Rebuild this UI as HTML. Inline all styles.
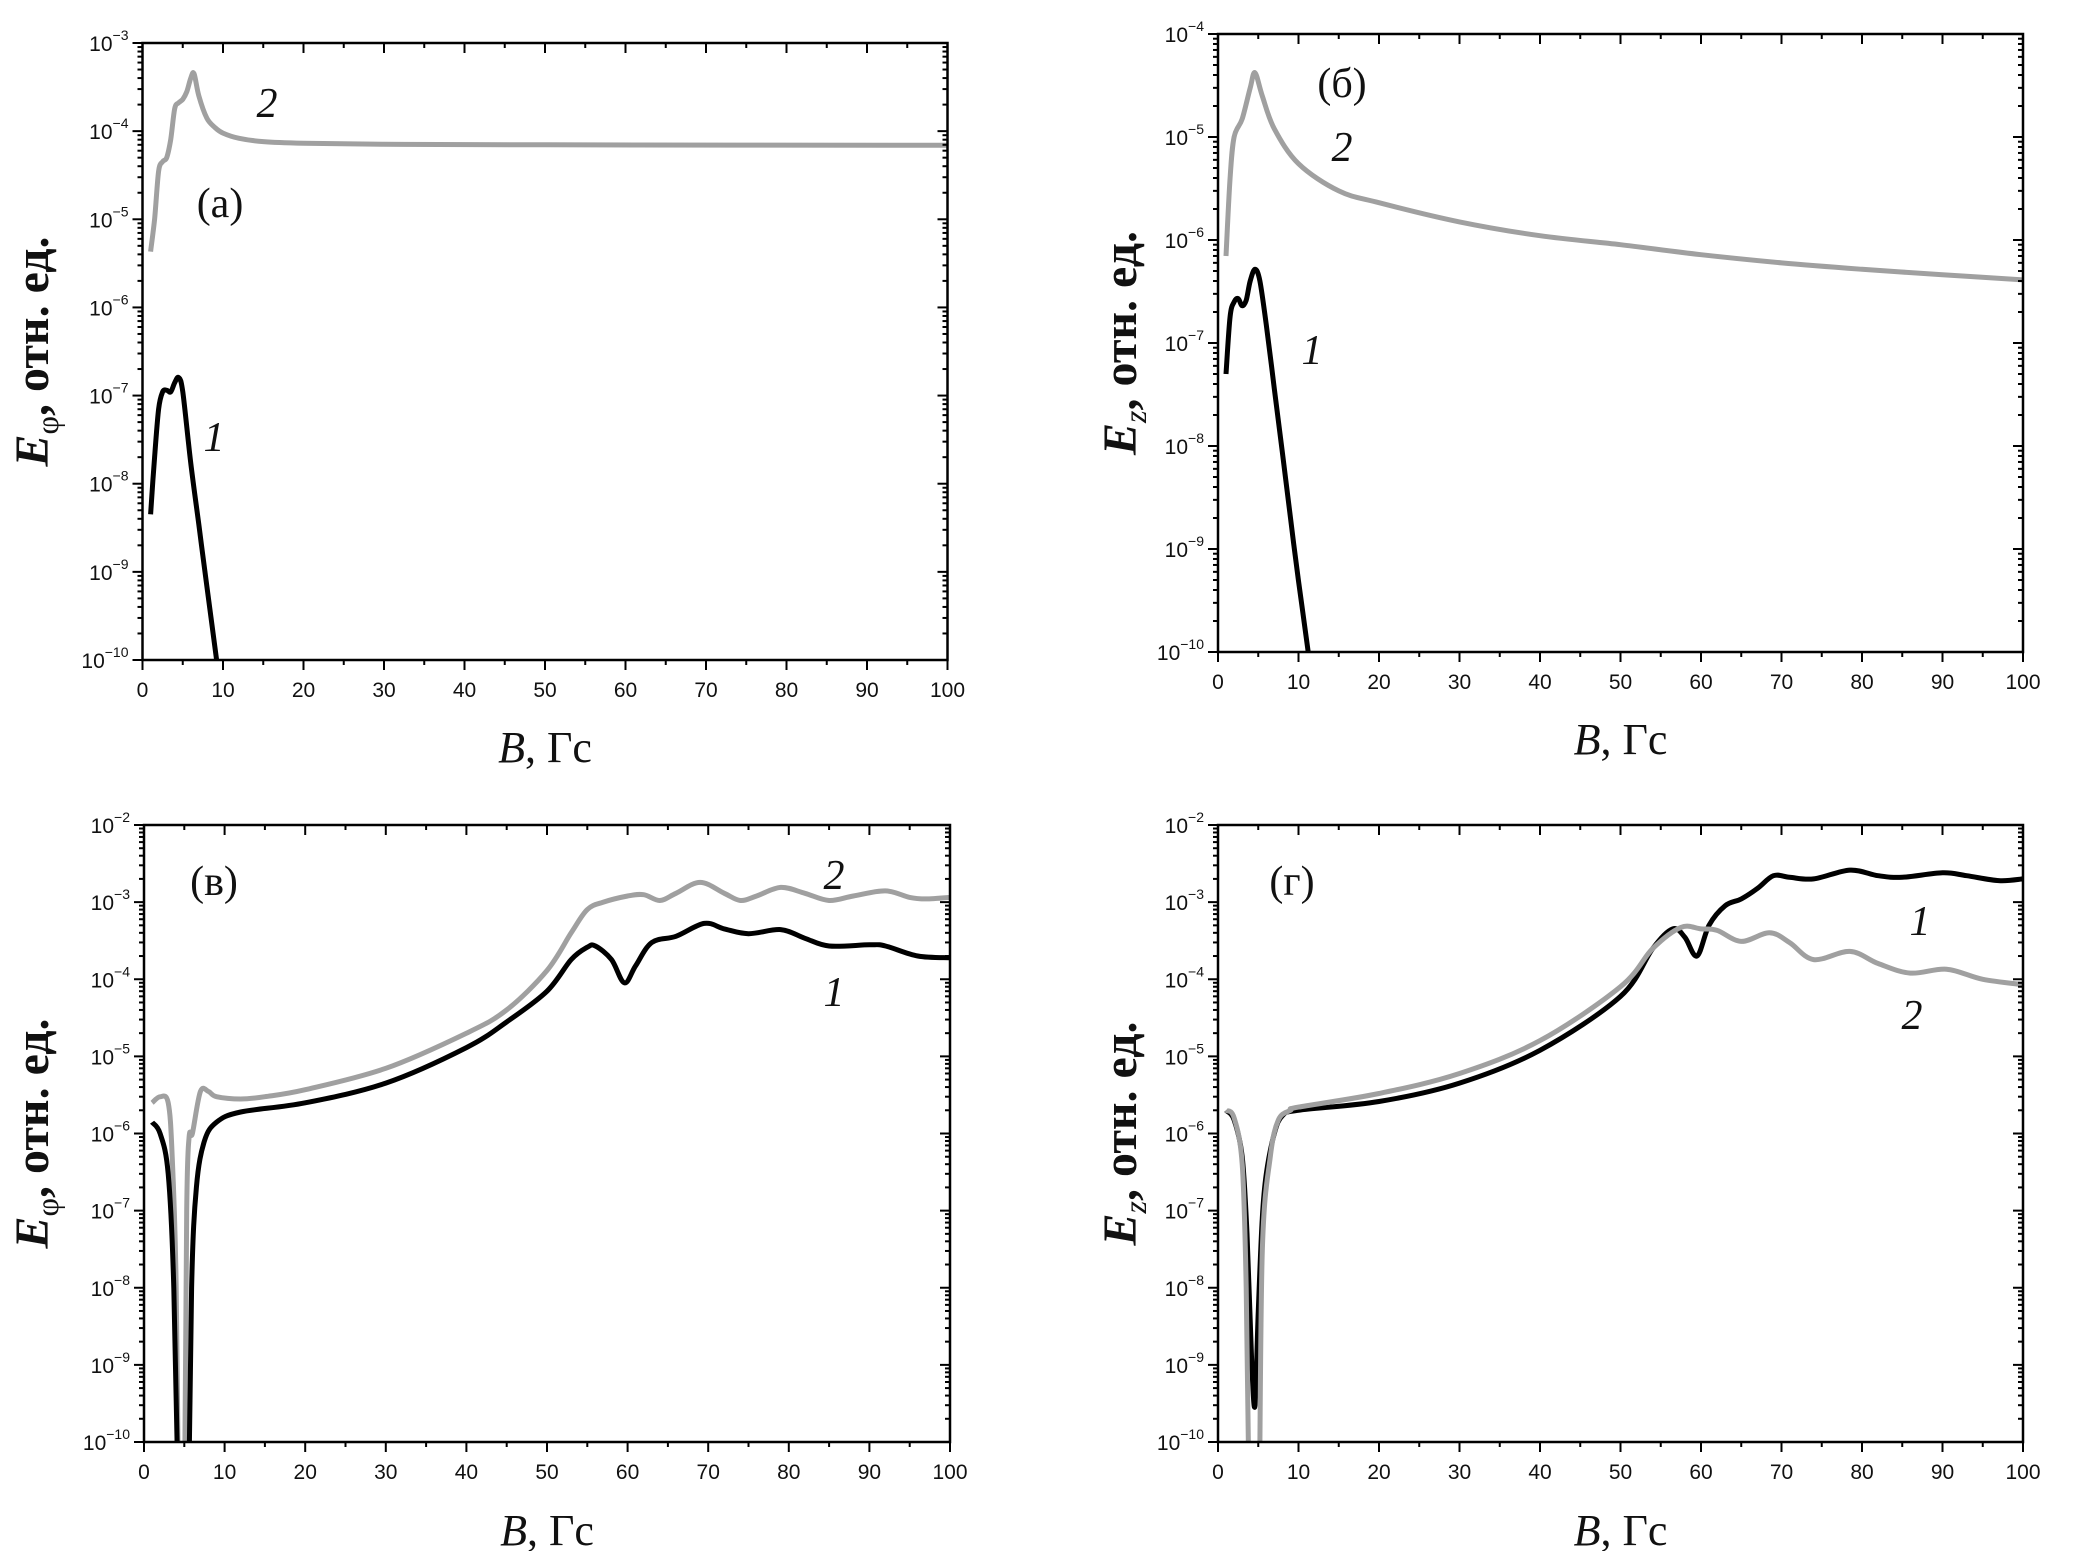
<!DOCTYPE html>
<html><head><meta charset="utf-8">
<style>
html,body{margin:0;padding:0;background:#fff;}
svg{display:block;}
.tl{font-family:"Liberation Sans",Arial,sans-serif;font-size:21px;fill:#111;}
.sup{font-size:14px;}
.ser{font-family:"Liberation Serif","Times New Roman",serif;fill:#111;}
</style></head>
<body>
<svg id="fig" width="2074" height="1551" viewBox="0 0 2074 1551" xmlns="http://www.w3.org/2000/svg"></svg>
<script>
// ---- data (x = B in Gs, y = field, relative units) ----
const aX2=[1,1.5,2,2.5,3,3.5,4,4.5,5,5.5,6,6.4,7,8,9,10,12,15,20,30,50,100];
const aY2=[4.3e-6,1e-5,3.5e-5,4.5e-5,5e-5,8e-5,1.8e-4,2.1e-4,2.3e-4,2.8e-4,4e-4,4.5e-4,2.5e-4,1.4e-4,1.1e-4,9.5e-5,8.3e-5,7.6e-5,7.3e-5,7.1e-5,7e-5,6.9e-5];
const aX1=[1,1.5,2,2.5,3,3.5,4,4.5,5,6,7,8,9.2,9.6];
const aY1=[4.5e-9,2e-8,7e-8,1.1e-7,1.15e-7,1.1e-7,1.4e-7,1.6e-7,1.1e-7,1.7e-8,3.4e-9,6.8e-10,1e-10,5e-11];

const bX2=[1,1.5,2,3,4,4.6,5.5,7,10,15,20,30,40,50,60,70,80,90,100];
const bY2=[7e-7,4e-6,1e-5,1.5e-5,3e-5,4.2e-5,2.5e-5,1.2e-5,5.5e-6,3e-6,2.3e-6,1.5e-6,1.1e-6,9e-7,7.2e-7,6e-7,5.2e-7,4.6e-7,4.1e-7];
const bX1=[1,1.5,2,2.5,3,3.5,4,4.6,5.2,6,7,8,9,10,11.2,11.6];
const bY1=[5e-8,1.8e-7,2.5e-7,2.7e-7,2.3e-7,2.6e-7,4e-7,5.2e-7,4e-7,1.5e-7,3.6e-8,8.6e-9,2e-9,4.9e-10,1e-10,5e-11];

const cX2=[1,2,3,3.5,4,4.3,4.6,5.0,5.3,5.6,6,7,8,9,12,15,20,30,40,45,50,53,55,57,60,62,64,66,69,72,74,76,79,82,85,88,92,95,97,100];
const cY2=[2.5e-6,3e-6,2.5e-6,5e-7,1e-8,1e-11,1e-12,1e-11,1e-7,9e-7,1e-6,3.5e-6,3.5e-6,3e-6,2.8e-6,3e-6,3.7e-6,7e-6,2e-5,4e-5,1.3e-4,4e-4,8e-4,1e-3,1.2e-3,1.25e-3,1.05e-3,1.3e-3,1.8e-3,1.3e-3,1.05e-3,1.2e-3,1.55e-3,1.3e-3,1.05e-3,1.2e-3,1.4e-3,1.15e-3,1.1e-3,1.15e-3];
const cX1=[1,2,3,3.7,4.3,4.9,5.5,5.9,6.5,7.5,9,12,20,30,40,45,50,53,55,56,58,59.6,61,63,66,69.5,72,75,79,82,85,90,92,96,100];
const cY1=[1.4e-6,1e-6,3e-7,1e-8,1e-11,1e-12,1e-11,1e-8,2e-7,8e-7,1.4e-6,1.9e-6,2.5e-6,4.5e-6,1.3e-5,2.8e-5,7e-5,1.8e-4,2.6e-4,2.7e-4,1.8e-4,9e-5,1.5e-4,3e-4,3.6e-4,5.3e-4,4.5e-4,3.9e-4,4.4e-4,3.4e-4,2.7e-4,2.8e-4,2.7e-4,2e-4,1.9e-4];

const dX1=[1,2,3,3.6,4.2,4.6,5,5.5,6,7,8,10,20,30,40,50,54,56.5,58,59.5,61,63,65,67,69,71,74,78.5,82,85,90,93,97,100];
const dY1=[2e-6,1.5e-6,5e-7,5e-8,1e-9,3e-10,5e-9,8e-8,3e-7,1e-6,1.7e-6,2e-6,2.6e-6,4.5e-6,1.2e-5,6e-5,2.5e-4,4.5e-4,3.5e-4,2e-4,5e-4,9e-4,1.1e-3,1.5e-3,2.2e-3,2.1e-3,2e-3,2.6e-3,2.2e-3,2.1e-3,2.4e-3,2.2e-3,1.9e-3,2e-3];
const dX2=[1,2,3,3.5,3.9,4.3,4.7,5.1,5.5,6.5,7.5,9,10,20,30,40,50,54,57.5,60,62,65,68.5,71,74,78.5,82,86,90.5,95,100];
const dY2=[2e-6,1.6e-6,4e-7,1e-8,1e-11,1e-12,1e-12,1e-11,3e-8,5e-7,1.5e-6,2e-6,2.2e-6,3.3e-6,6e-6,1.6e-5,8e-5,2.5e-4,4.7e-4,4.5e-4,4.3e-4,3.1e-4,4e-4,3e-4,1.8e-4,2.3e-4,1.6e-4,1.2e-4,1.35e-4,1e-4,8.5e-5];

const xTicks=[0,10,20,30,40,50,60,70,80,90,100];

const NS="http://www.w3.org/2000/svg";
const svg=document.getElementById('fig');
function mk(tag,attrs,parent){const e=document.createElementNS(NS,tag);for(const k in attrs)e.setAttribute(k,attrs[k]);(parent||svg).appendChild(e);return e;}

function panel(p){
  const g=mk('g',{});
  
  
  const {l,r,t,b,ymin,ymax}=p;
  const xs=v=>l+(v/100)*(r-l);
  const ys=v=>b-(Math.log10(v)-ymin)/(ymax-ymin)*(b-t);
  const cid='clip-'+p.name;
  const cp=mk('clipPath',{id:cid},g);mk('rect',{x:l,y:t,width:r-l,height:b-t},cp);
  p.series.forEach(s=>{
    const pts=s.x.map((v,i)=>[xs(v),ys(s.y[i])]);
    let d='M'+pts[0][0].toFixed(1)+','+pts[0][1].toFixed(1);
    for(let i=0;i<pts.length-1;i++){
      const p0=pts[Math.max(0,i-1)],p1=pts[i],p2=pts[i+1],p3=pts[Math.min(pts.length-1,i+2)];
      const c1=[p1[0]+(p2[0]-p0[0])/6,p1[1]+(p2[1]-p0[1])/6];
      const c2=[p2[0]-(p3[0]-p1[0])/6,p2[1]-(p3[1]-p1[1])/6];
      d+=' C'+c1[0].toFixed(1)+','+c1[1].toFixed(1)+' '+c2[0].toFixed(1)+','+c2[1].toFixed(1)+' '+p2[0].toFixed(1)+','+p2[1].toFixed(1);
    }
    const path=mk('path',{d:d,fill:'none',stroke:s.color,'stroke-width':s.w||5,'stroke-linejoin':'round','clip-path':'url(#'+cid+')'},g);
    
    
  });
  const fr=mk('rect',{x:l,y:t,width:r-l,height:b-t,fill:'none',stroke:'#000','stroke-width':2.5},g);
  
  
  for(let v=0;v<=100;v+=5){
    const X=xs(v),maj=v%10===0;
    mk('line',{x1:X,y1:b,x2:X,y2:b+(maj?10:5),stroke:'#000','stroke-width':2},g);
    mk('line',{x1:X,y1:t,x2:X,y2:t+(maj?10:5),stroke:'#000','stroke-width':2},g);
  }
  xTicks.forEach(v=>{
    const tx=mk('text',{x:xs(v),y:b+37,'text-anchor':'middle',class:'tl'},g);
    tx.textContent=String(v);
    
    
  });
  for(let e=ymin;e<=ymax;e++){
    const Y=ys(Math.pow(10,e));
    mk('line',{x1:l-10,y1:Y,x2:l,y2:Y,stroke:'#000','stroke-width':2},g);
    mk('line',{x1:r-10,y1:Y,x2:r,y2:Y,stroke:'#000','stroke-width':2},g);
    const tx=mk('text',{x:l-14,y:Y+8,'text-anchor':'end',class:'tl'},g);
    
    
    const t1=mk('tspan',{},tx);t1.textContent='10';
    const t2=mk('tspan',{class:'sup',dy:-11},tx);t2.textContent='−'+(-e);
    if(e<ymax){
      for(let m=2;m<=9;m++){
        const Ym=ys(m*Math.pow(10,e));
        mk('line',{x1:l-5,y1:Ym,x2:l,y2:Ym,stroke:'#000','stroke-width':2},g);
        mk('line',{x1:r-5,y1:Ym,x2:r,y2:Ym,stroke:'#000','stroke-width':2},g);
      }
    }
  }
  const xt=mk('text',{x:(l+r)/2,y:p.xty,'text-anchor':'middle',class:'ser','font-size':44},g);
  
  
  const xa=mk('tspan',{'font-style':'italic'},xt);xa.textContent='B';
  const xb=mk('tspan',{},xt);xb.textContent=', Гс';
  const cy=(t+b)/2;
  const yt=mk('text',{x:p.ytx,y:cy,'text-anchor':'middle',class:'ser','font-size':48,'font-weight':'bold',transform:'rotate(-90 '+p.ytx+' '+cy+')'},g);
  
  
  const ya=mk('tspan',{'font-style':'italic'},yt);ya.textContent='E';
  const yb=mk('tspan',{dy:10,'font-size':32,'font-weight':'normal','font-style':p.sub==='z'?'italic':'normal'},yt);yb.textContent=p.sub;
  const yc=mk('tspan',{dy:-10},yt);yc.textContent=', отн. ед.';
  p.labels.forEach(a=>{
    const tx=mk('text',{x:a.x,y:a.y,'text-anchor':'middle',class:'ser','font-size':a.fs||42,'font-style':a.it?'italic':'normal'},g);
    tx.textContent=a.t;
    
    
  });
}
const G='#a0a0a0',K='#000';
panel({name:'panel-a',l:142.5,r:947.5,t:43,b:660,ymin:-10,ymax:-3,xty:762,ytx:48,sub:'φ',
  series:[{name:'series-2',x:aX2,y:aY2,color:G},{name:'series-1',x:aX1,y:aY1,color:K}],
  labels:[{t:'(a)',x:220,y:217,n:'panel-label'},{t:'2',x:267,y:117,it:1,n:'curve-label-2'},{t:'1',x:214,y:451,it:1,n:'curve-label-1'}]});
panel({name:'panel-b',l:1218,r:2023,t:34,b:652,ymin:-10,ymax:-4,xty:754,ytx:1136,sub:'z',
  series:[{name:'series-2',x:bX2,y:bY2,color:G},{name:'series-1',x:bX1,y:bY1,color:K}],
  labels:[{t:'(б)',x:1342,y:97,n:'panel-label'},{t:'2',x:1342,y:161,it:1,n:'curve-label-2'},{t:'1',x:1312,y:364,it:1,n:'curve-label-1'}]});
panel({name:'panel-c',l:144,r:950,t:825,b:1442,ymin:-10,ymax:-2,xty:1545,ytx:48,sub:'φ',
  series:[{name:'series-2',x:cX2,y:cY2,color:G},{name:'series-1',x:cX1,y:cY1,color:K}],
  labels:[{t:'(в)',x:214,y:895,n:'panel-label'},{t:'2',x:834,y:889,it:1,n:'curve-label-2'},{t:'1',x:834,y:1006,it:1,n:'curve-label-1'}]});
panel({name:'panel-d',l:1218,r:2023,t:825,b:1442,ymin:-10,ymax:-2,xty:1545,ytx:1136,sub:'z',
  series:[{name:'series-1',x:dX1,y:dY1,color:K},{name:'series-2',x:dX2,y:dY2,color:G}],
  labels:[{t:'(г)',x:1292,y:895,n:'panel-label'},{t:'1',x:1920,y:935,it:1,n:'curve-label-1'},{t:'2',x:1912,y:1029,it:1,n:'curve-label-2'}]});
</script>
</body></html>
